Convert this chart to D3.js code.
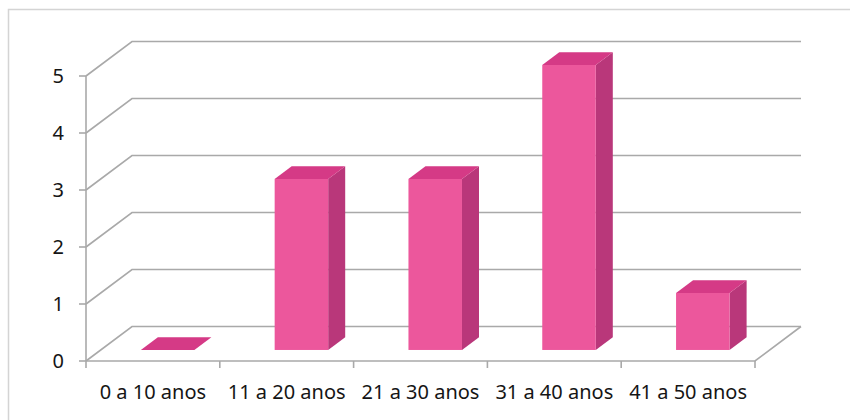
<!DOCTYPE html>
<html>
<head>
<meta charset="utf-8">
<script src="https://cdn.jsdelivr.net/npm/d3@7"></script>
<style>
  html, body { margin: 0; padding: 0; background: #fff; }
  svg { display: block; }
  text { font-family: "Noto Sans", "Open Sans", sans-serif; fill: #151515; }
</style>
</head>
<body>
<svg id="chart" width="850" height="420"></svg>
<script>
// Age groups and counts
const categories = ["0 a 10 anos", "11 a 20 anos", "21 a 30 anos", "31 a 40 anos", "41 a 50 anos"];
const counts = [0, 3, 3, 5, 1];
const yTicks = [0, 1, 2, 3, 4, 5];

const svg = d3.select("#chart");

// Plot frame (front plane) and depth offset of the 3D box
const plotLeft = 86, plotRight = 755, plotBottom = 361, plotTop = 76;
const DX = 46, DY = 34.5;          // depth direction (right, up)
const d0 = 0.32, d1 = 0.69;       // bar depth span inside the box

const x = d3.scaleBand().domain(categories).range([plotLeft, plotRight])
  .paddingInner(0.6).paddingOuter(0.3);
const y = d3.scaleLinear().domain([0, 5]).range([plotBottom, plotTop]);
const step = x.step();
const catStart = i => plotLeft + i * step;

// Outer chart border
svg.append("rect")
  .attr("x", 8.5).attr("y", 9.5).attr("width", 900).attr("height", 500)
  .attr("fill", "none").attr("stroke", "#d4d4d4").attr("stroke-width", 1.5);

const gridColor = "#a9a9a9";

// Back-wall gridlines with their diagonal on the side wall
const grid = svg.append("g").attr("fill", "none").attr("stroke", gridColor).attr("stroke-width", 1.6);
yTicks.forEach(v => {
  const yy = y(v);
  grid.append("path")
    .attr("d", `M${plotLeft},${yy} L${plotLeft + DX},${yy - DY} L${plotRight + DX},${yy - DY}`);
});

// Floor: front edge and right diagonal
grid.append("path").attr("d", `M${plotLeft},${plotBottom} L${plotRight},${plotBottom} L${plotRight + DX},${plotBottom - DY}`);

// Vertical axis line and ticks
const axisG = svg.append("g").attr("stroke", gridColor).attr("stroke-width", 1.6);
axisG.append("line").attr("x1", plotLeft).attr("x2", plotLeft).attr("y1", y(5)).attr("y2", plotBottom);
yTicks.forEach(v => {
  axisG.append("line").attr("x1", plotLeft - 7).attr("x2", plotLeft).attr("y1", y(v)).attr("y2", y(v));
});
// Category ticks along the floor front edge
d3.range(categories.length + 1).forEach(i => {
  axisG.append("line").attr("x1", catStart(i)).attr("x2", catStart(i))
    .attr("y1", plotBottom).attr("y2", plotBottom + 7);
});

// Y tick labels
svg.append("g").selectAll("text").data(yTicks).join("text")
  .attr("x", 64).attr("y", d => y(d))
  .attr("dy", "0.36em")
  .attr("text-anchor", "end")
  .attr("font-size", 20)
  .text(d => d);

// X category labels
svg.append("g").selectAll("text").data(categories).join("text")
  .attr("x", d => x(d) + x.bandwidth() / 2)
  .attr("y", 392)
  .attr("dy", "0.36em")
  .attr("text-anchor", "middle")
  .attr("font-size", 20)
  .text(d => d);

// 3D bars
const frontColor = "#ec579c", topColor = "#d53a86", sideColor = "#b9377a";
const bars = svg.append("g");
categories.forEach((c, i) => {
  const v = counts[i];
  const w = x.bandwidth();
  const fx = x(c) + d0 * DX;          // front-left x
  const fyB = plotBottom - d0 * DY;   // front bottom y
  const fyT = y(v) - d0 * DY;         // front top y
  const ddx = (d1 - d0) * DX, ddy = (d1 - d0) * DY;
  const g = bars.append("g");
  if (v > 0) {
    g.append("path").attr("fill", sideColor)
      .attr("d", `M${fx + w},${fyB} L${fx + w + ddx},${fyB - ddy} L${fx + w + ddx},${fyT - ddy} L${fx + w},${fyT} Z`);
    g.append("rect").attr("fill", frontColor)
      .attr("x", fx).attr("y", fyT).attr("width", w).attr("height", fyB - fyT);
  }
  g.append("path").attr("fill", topColor)
    .attr("d", `M${fx},${fyT} L${fx + ddx},${fyT - ddy} L${fx + w + ddx},${fyT - ddy} L${fx + w},${fyT} Z`);
});
</script>
</body>
</html>
